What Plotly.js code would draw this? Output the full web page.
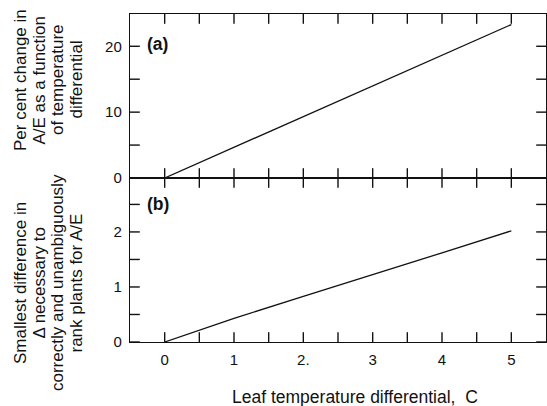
<!DOCTYPE html>
<html>
<head>
<meta charset="utf-8">
<script src="https://cdn.plot.ly/plotly-3.0.1.min.js"></script>
<style>html,body{margin:0;padding:0;background:#fff;}#chart{width:547px;height:406px;}</style>
</head>
<body>
<div id="chart"></div>
<script>
// Leaf temperature differential (C)
const tempDiff = [0, 1, 2, 3, 4, 5];
// (a) Per cent change in A/E
const pctChangeAE = [0, 4.65, 9.3, 14.0, 18.65, 23.3];
// (b) Smallest difference in Delta
const smallestDelta = [0, 0.43, 0.83, 1.22, 1.62, 2.02];

const xTickVals = [0, 1, 2, 3, 4, 5];
const xTickText = ['0', '1', '2.', '3', '4', '5'];
const yTopTicks = [0, 10, 20];
const yBotTicks = [0, 1, 2];
const topTitleLines = ['Per cent change in', 'A/E as a function', 'of temperature', 'differential'];
const botTitleLines = ['Smallest difference in', 'Δ necessary to', 'correctly and unambiguously', 'rank plants for A/E'];

const X_RANGE = [-0.5, 5.5];
const Y_TOP_RANGE = [0, 24.9];
const Y_BOT_RANGE = [0, 2.98];

const FONT = 'Liberation Sans, Arial, Helvetica, sans-serif';
const INK = '#111111';

// tick mark positions (major + minor) on the frame
function steps(a, b, d) { const o = []; for (let v = a; v <= b + 1e-9; v += d) o.push(+v.toFixed(4)); return o; }
const xMarkVals = steps(0, 5, 0.5);
const yTopMarkVals = steps(0, 20, 5);
const yBotMarkVals = steps(0, 2.5, 0.5);

const traces = [
  {x: tempDiff, y: pctChangeAE, xaxis: 'x', yaxis: 'y', mode: 'lines',
   line: {color: INK, width: 1.3}, hoverinfo: 'none'},
  {x: tempDiff, y: smallestDelta, xaxis: 'x2', yaxis: 'y2', mode: 'lines',
   line: {color: INK, width: 1.3}, hoverinfo: 'none'}
];

function tickTrace(xs, ys, xa, ya, sym) {
  return {x: xs, y: ys, xaxis: xa, yaxis: ya, mode: 'markers', cliponaxis: true, hoverinfo: 'none',
    marker: {symbol: sym, size: 14, color: INK, line: {color: INK, width: 1.4}}};
}
[['x', 'y', Y_TOP_RANGE, yTopMarkVals], ['x2', 'y2', Y_BOT_RANGE, yBotMarkVals]].forEach(([xa, ya, yr, yv]) => {
  traces.push(tickTrace(xMarkVals, xMarkVals.map(() => yr[0]), xa, ya, 'line-ns'));
  traces.push(tickTrace(xMarkVals, xMarkVals.map(() => yr[1]), xa, ya, 'line-ns'));
  traces.push(tickTrace(yv.map(() => X_RANGE[0]), yv, xa, ya, 'line-ew'));
  traces.push(tickTrace(yv.map(() => X_RANGE[1]), yv, xa, ya, 'line-ew'));
});

function ax(extra) {
  return Object.assign({
    showgrid: false, zeroline: false, showline: true, linecolor: INK, linewidth: 1.2,
    mirror: true, ticks: '', tickfont: {family: FONT, size: 15, color: INK}, tickmode: 'array',
    ticklabelstandoff: 4
  }, extra);
}

const layout = {
  width: 547, height: 406,
  margin: {l: 130, r: 1, t: 14, b: 64},
  paper_bgcolor: '#fff', plot_bgcolor: 'rgba(0,0,0,0)',
  showlegend: false,
  font: {family: FONT, color: INK},
  xaxis: ax({range: X_RANGE, anchor: 'y', tickvals: xTickVals, showticklabels: false}),
  yaxis: ax({range: Y_TOP_RANGE, domain: [0.5, 1], anchor: 'x', tickvals: yTopTicks,
    ticktext: yTopTicks.map(String)}),
  xaxis2: ax({range: X_RANGE, anchor: 'y2', tickvals: xTickVals, ticktext: xTickText}),
  yaxis2: ax({range: Y_BOT_RANGE, domain: [0, 0.5], anchor: 'x2', tickvals: yBotTicks,
    ticktext: yBotTicks.map(String)}),
  annotations: []
};

const pw = 547 - 130 - 1, ph = 406 - 14 - 64;
const px = v => (v - 130) / pw;
const py = v => (342 - v) / ph;

[['<b>(a)</b>', 44], ['<b>(b)</b>', 204]].forEach(([t, y]) => layout.annotations.push({
  text: t, x: px(145), y: py(y), xref: 'paper', yref: 'paper', showarrow: false,
  xanchor: 'left', yanchor: 'middle', font: {family: FONT, size: 17.5, color: INK}
}));

const lineX = [21, 39.5, 58, 76.5];
topTitleLines.forEach((t, i) => layout.annotations.push({
  text: t, xref: 'paper', yref: 'paper', x: px(lineX[i]), y: py(80), textangle: -90,
  showarrow: false, xanchor: 'center', yanchor: 'middle',
  font: {family: FONT, size: 17, color: INK}
}));
botTitleLines.forEach((t, i) => layout.annotations.push({
  text: t, xref: 'paper', yref: 'paper', x: px(lineX[i] - 1), y: py(283), textangle: -90,
  showarrow: false, xanchor: 'center', yanchor: 'middle',
  font: {family: FONT, size: 17, color: INK}
}));
layout.annotations.push({
  text: 'Leaf temperature differential,  C', xref: 'paper', yref: 'paper',
  x: px(355), y: py(397), showarrow: false, xanchor: 'center', yanchor: 'middle',
  font: {family: FONT, size: 17.5, color: INK}
});

Plotly.newPlot('chart', traces, layout, {staticPlot: true, displayModeBar: false});
</script>
</body>
</html>
